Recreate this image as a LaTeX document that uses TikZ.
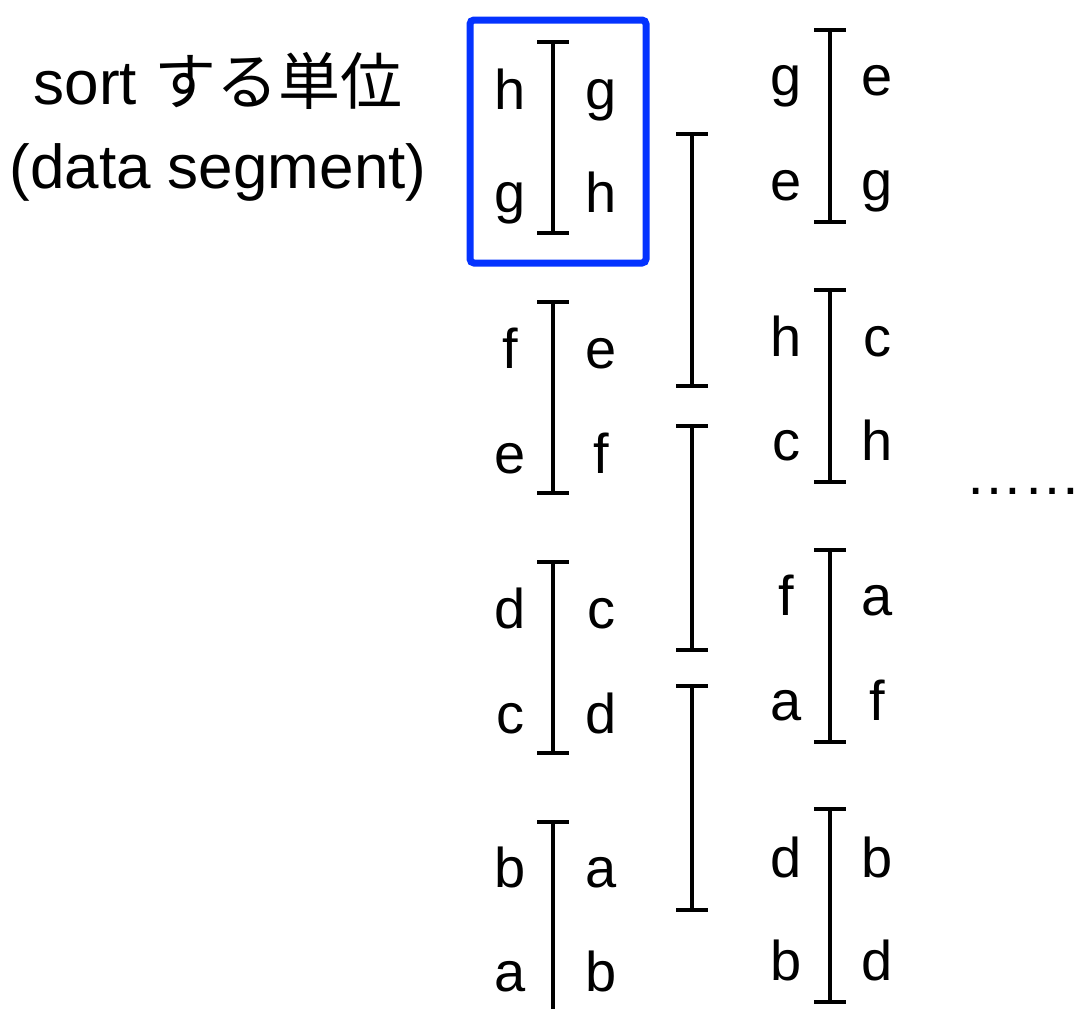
\documentclass[tikz,border=0pt]{standalone}
\usepackage{fontspec}
\setmainfont{Liberation Sans}
\newfontfamily\cjkfont{Noto Sans CJK JP}
\definecolor{segblue}{HTML}{0433FF}
\newcommand\Ibar[3]{\draw[brk] (#1-16,#2) -- (#1+16,#2) (#1,#2) -- (#1,#3) (#1-16,#3) -- (#1+16,#3);}
\begin{document}
\begin{tikzpicture}[x=1pt,y=-1pt,
  lt/.style={font=\fontsize{56}{60}\selectfont, inner sep=0pt, anchor=base},
  lab/.style={font=\fontsize{62}{66}\selectfont, inner sep=0pt, anchor=base},
  brk/.style={line width=4pt, black},
  segbox/.style={draw=segblue, line width=7pt, rounded corners=4pt}]
\useasboundingbox (0,0) rectangle (1082,1009);

% label
\node[lab] (lab1) at (218,104) {sort {\cjkfont する単位}};
\node[lab] (lab2) at (218,188) {(data segment)};

% blue box
\draw[segbox] (470,20) rectangle (646,263);

% column 1 brackets
\Ibar{553}{42}{233}
\Ibar{553}{302}{493}
\Ibar{553}{562}{753}
\draw[brk] (537,822) -- (569,822) (553,822) -- (553,1012);

% column 2 brackets
\Ibar{692}{134}{386}
\Ibar{692}{426}{650}
\Ibar{692}{686}{910}

% column 3 brackets
\Ibar{830}{30}{222}
\Ibar{830}{290}{482}
\Ibar{830}{550}{742}
\Ibar{830}{809}{1002}

% column 1 letters
\node[lt] (a11) at (510,109) {h};  \node[lt] (b11) at (601,109) {g};
\node[lt] (a12) at (510,212) {g};  \node[lt] (b12) at (601,212) {h};
\node[lt] (a21) at (510,368) {f};  \node[lt] (b21) at (601,368) {e};
\node[lt] (a22) at (510,473) {e};  \node[lt] (b22) at (601,473) {f};
\node[lt] (a31) at (510,628) {d};  \node[lt] (b31) at (601,628) {c};
\node[lt] (a32) at (510,733) {c};  \node[lt] (b32) at (601,733) {d};
\node[lt] (a41) at (510,887) {b};  \node[lt] (b41) at (601,887) {a};
\node[lt] (a42) at (510,991) {a};  \node[lt] (b42) at (601,991) {b};

% column 3 letters
\node[lt] (c11) at (786,95) {g};   \node[lt] (d11) at (877,95) {e};
\node[lt] (c12) at (786,200) {e};  \node[lt] (d12) at (877,200) {g};
\node[lt] (c21) at (786,356) {h};  \node[lt] (d21) at (877,356) {c};
\node[lt] (c22) at (786,460) {c};  \node[lt] (d22) at (877,460) {h};
\node[lt] (c31) at (786,615) {f};  \node[lt] (d31) at (877,615) {a};
\node[lt] (c32) at (786,720) {a};  \node[lt] (d32) at (877,720) {f};
\node[lt] (c41) at (786,877) {d};  \node[lt] (d41) at (877,877) {b};
\node[lt] (c42) at (786,980) {b};  \node[lt] (d42) at (877,980) {d};

% dots
\node[lt, anchor=base east, font=\fontsize{58}{60}\selectfont] (dots) at (1082,494) {……};
\end{tikzpicture}
\end{document}
